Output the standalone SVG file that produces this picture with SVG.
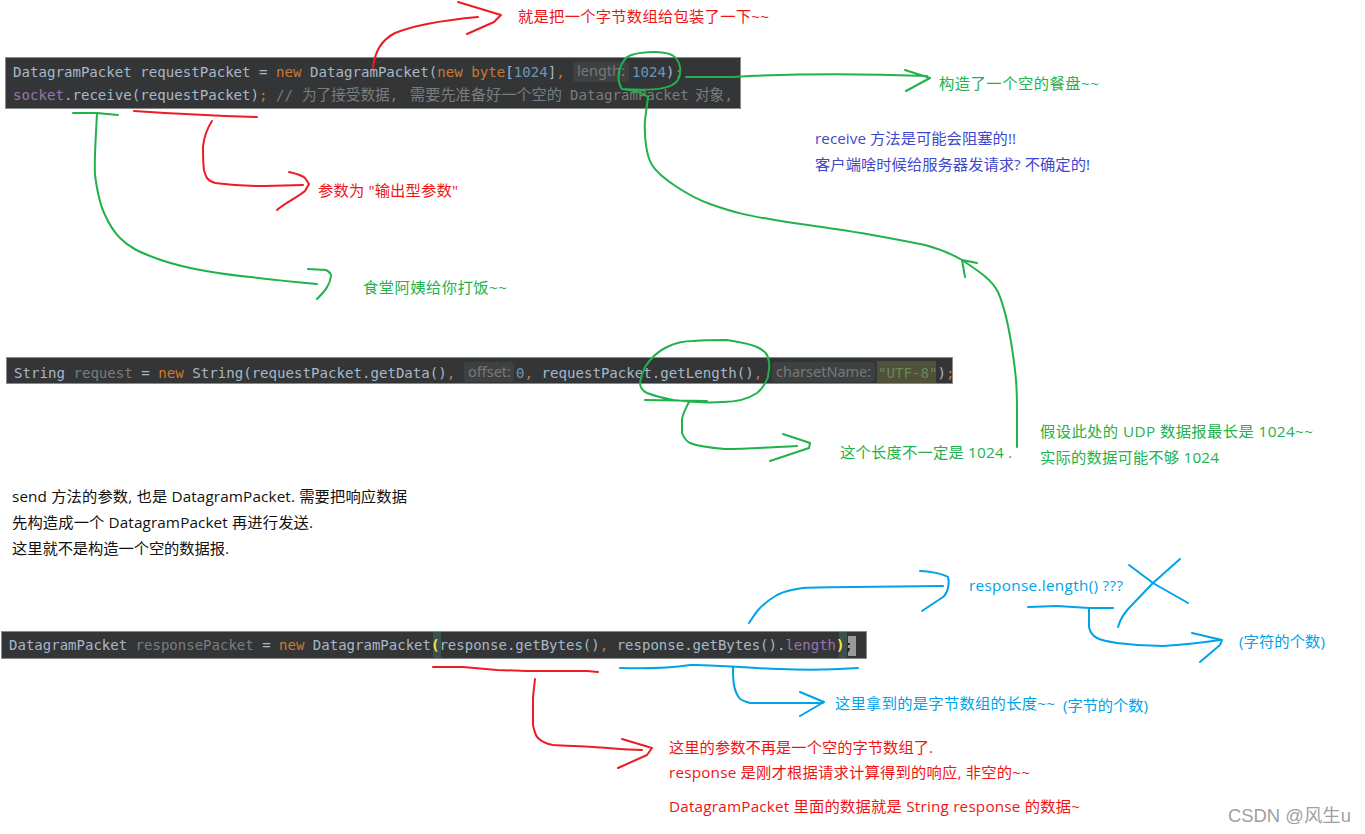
<svg xmlns="http://www.w3.org/2000/svg" width="1365" height="834" viewBox="0 0 1365 834">
<style>
.bar{fill:#333537;stroke:#8a8a8a;stroke-width:1}
.c{font-family:"DejaVu Sans Mono","Liberation Mono","Noto Sans CJK SC",monospace;font-size:14.1px;fill:#a9b7c6;white-space:pre}
.cj{font-size:14.6px}
.o{fill:#cc7832}.n{fill:#6897bb}.g{fill:#7a7d7f}.p{fill:#9876aa}.s{fill:#6a8759}.y{fill:#ffe14a;font-weight:bold}
.h{font-family:"Noto Sans","Liberation Sans",sans-serif;font-size:14.5px;fill:#787878}
.t{font-family:"Open Sans","Noto Sans CJK SC",sans-serif;font-size:15.3px;white-space:pre}
.lr{fill:#f01414}.lg{fill:#22b14c}.lb{fill:#00a2e8}.li{fill:#3f48cc}.lk{fill:#111}
.r,.gr,.bl{fill:none;stroke-width:2;stroke-linecap:round;stroke-linejoin:round}
.r{stroke:#ed1c24}.gr{stroke:#22b14c}.bl{stroke:#00a2e8}
</style>
<g id="code1">
<rect class="bar" x="5.500" y="57.500" width="735" height="51"/>
<text class="c" x="13" y="77">DatagramPacket requestPacket = <tspan class="o">new</tspan> DatagramPacket(<tspan class="o">new byte</tspan>[<tspan class="n">1024</tspan>]<tspan class="o">,</tspan></text>
<rect x="573" y="62" width="56" height="20" rx="3" fill="#3e4142"/>
<text class="h" x="577" y="76">length:</text>
<text class="c" x="632" y="77"><tspan class="n">1024</tspan>)<tspan class="o">;</tspan></text>
<text class="c" x="13" y="100"><tspan class="p">socket</tspan>.receive(requestPacket)<tspan class="o">;</tspan> <tspan class="g">// </tspan></text>
<text class="c cj g" x="302" y="100">为了接受数据,</text>
<text class="c g" x="410" y="100" style="font-size:15.2px">需要先准备好一个空的</text>
<text class="c g" x="570" y="100">DatagramPacket</text>
<text class="c cj g" x="695" y="100">对象,</text>
</g>
<g id="code2">
<rect class="bar" x="6.500" y="357.500" width="946" height="26"/>
<text class="c" x="14" y="378">String <tspan class="g">request</tspan> = <tspan class="o">new</tspan> String(requestPacket.getData()<tspan class="o">,</tspan></text>
<rect x="464" y="362" width="50" height="20" rx="3" fill="#3e4142"/>
<text class="h" x="468" y="377">offset:</text>
<text class="c" x="516" y="378"><tspan class="n">0</tspan><tspan class="o">,</tspan> requestPacket.getLength()<tspan class="o">,</tspan></text>
<rect x="772" y="362" width="103" height="20" rx="3" fill="#3e4142"/>
<text class="h" x="776" y="377">charsetName:</text>
<rect x="877" y="361" width="59" height="22" fill="#4f5238"/>
<text class="c" x="878" y="378"><tspan class="s">"UTF-8"</tspan>)<tspan class="o">;</tspan></text>
</g>
<g id="code3">
<rect class="bar" x="1.500" y="631.500" width="865" height="27"/>
<rect x="433" y="632" width="8" height="26" fill="#3b514d"/>
<rect x="839" y="632" width="8" height="26" fill="#3b514d"/>
<rect x="848" y="636" width="8" height="20" fill="#9a9a9a"/>
<text class="c" x="9" y="650" style="font-size:14.03px">DatagramPacket <tspan class="g">responsePacket</tspan> = <tspan class="o">new</tspan> DatagramPacket<tspan class="y">(</tspan>response.getBytes()<tspan class="o">,</tspan> response.getBytes().<tspan class="p">length</tspan><tspan class="y">)</tspan><tspan fill="#111">;</tspan></text>
</g>
<g id="connectors">
<path class="r" d="M373 68C375 50 382 40 395 33C415 25 445 20 478 17M458 2L501 15L494 22L467 34"/>
<path class="gr" d="M686 77L733 77L750 76C800 74 870 74 927 76M905 70L930 78L906 91"/>
<path class="gr" d="M622 89C616 80 618 66 627 57C635 52 660 50 672 55C681 60 682 72 678 80C672 89 655 91 622 89C632 90 642 92 648 97L645 120C644 135 646 155 652 165C660 178 690 197 710 204C735 213 750 216 775 220C800 224 815 226 835 229C870 234 900 240 925 245C940 249 950 253 962 260"/>
<path class="gr" d="M965 277L962 260L977 263M962 260C980 272 992 280 998 292C1006 310 1012 345 1015 370C1017 385 1017 395 1017 410L1017 447"/>
<path class="gr" d="M73 113L97 113L118 115M97 113C96 135 94 160 95 175C97 190 100 205 105 215C110 226 115 233 120 238C130 248 140 252 150 256C165 262 180 266 195 269C215 273 230 275 250 277C275 280 295 282 317 284M308 269L326 270C330 272 331 274 331 276C330 285 325 291 317 299"/>
<path class="r" d="M134 111L165 113L225 116L257 117"/>
<path class="r" d="M212 121C206 130 204 137 203 147C203 155 203 163 204 170C206 178 208 181 215 183C230 185 245 186 265 186L303 185M289 172C297 174 302 175 305 178L309 184L305 191C298 197 285 203 277 210"/>
<path class="gr" d="M645 400L707 401M640 383C641 375 643 371 645 367C651 358 658 351 667 347C675 343 684 341 693 341C705 340 718 340 727 340C740 342 750 344 757 347C765 351 768 354 769 362C770 370 768 373 768 377C765 385 762 389 757 393C748 399 735 402 723 402C708 403 690 402 673 400C663 398 655 396 647 393C641 390 640 387 640 383"/>
<path class="gr" d="M689 402C685 410 682 415 682 420L682 433C684 438 686 441 690 443C700 447 712 448 725 449C750 449 775 447 797 446M783 434L810 443L809 448L770 461"/>
<path class="bl" d="M749 623C753 617 756 612 760 608C765 603 770 599 777 595C785 591 795 589 803 588C820 587 835 587 853 587L943 586M920 571C930 571 943 574 948 577C950 585 947 594 943 597L922 611"/>
<path class="bl" d="M1028 607L1057 606L1089 608L1113 608M1089 609L1089 627C1090 632 1093 636 1097 638C1103 641 1110 642 1117 643C1132 645 1148 646 1163 646C1182 645 1200 643 1220 640M1192 633L1222 640L1220 645L1200 662"/>
<path class="bl" d="M1118 627C1120 620 1125 612 1130 607L1153 583L1180 559M1129 565L1153 583L1188 603"/>
<path class="r" d="M433 667L463 667L497 670L527 671L587 671L598 672"/>
<path class="bl" d="M620 668C650 669 670 668 690 665C710 664 740 668 780 669C800 670 830 670 858 668"/>
<path class="bl" d="M733 667C733 680 733 690 740 699C743 701 746 702 750 703L823 703M800 692L824 702L800 716"/>
<path class="r" d="M535 679L533 697L533 725C534 730 535 735 538 738C542 742 547 744 553 745C565 746 580 746 593 747C610 748 625 750 642 750M622 739L652 748L647 755L618 768"/>
</g>
<g id="labels">
<text class="t lr" x="518" y="22" textLength="251">就是把一个字节数组给包装了一下~~</text>
<text class="t lg" x="939" y="89" textLength="160">构造了一个空的餐盘~~</text>
<text class="t li" x="815" y="144" textLength="201">receive 方法是可能会阻塞的!!</text>
<text class="t li" x="815" y="170" textLength="275">客户端啥时候给服务器发请求? 不确定的!</text>
<text class="t lr" x="318" y="196" textLength="140">参数为 "输出型参数"</text>
<text class="t lg" x="363" y="293" textLength="144">食堂阿姨给你打饭~~</text>
<text class="t lg" x="840" y="458" textLength="172">这个长度不一定是 1024 .</text>
<text class="t lg" x="1040" y="437" textLength="273">假设此处的 UDP 数据报最长是 1024~~</text>
<text class="t lg" x="1040" y="463" textLength="179">实际的数据可能不够 1024</text>
<text class="t lk" x="12" y="502" textLength="395">send 方法的参数, 也是 DatagramPacket. 需要把响应数据</text>
<text class="t lk" x="12" y="528" textLength="301">先构造成一个 DatagramPacket 再进行发送.</text>
<text class="t lk" x="12" y="554" textLength="217">这里就不是构造一个空的数据报.</text>
<text class="t lb" x="969" y="591" textLength="154">response.length() ???</text>
<text class="t lb" x="1239" y="647" textLength="86">(字符的个数)</text>
<text class="t lb" x="835" y="709" textLength="220">这里拿到的是字节数组的长度~~</text>
<text class="t lb" x="1063" y="711" textLength="85">(字节的个数)</text>
<text class="t lr" x="669" y="753" textLength="264">这里的参数不再是一个空的字节数组了.</text>
<text class="t lr" x="669" y="778" textLength="361">response 是刚才根据请求计算得到的响应, 非空的~~</text>
<text class="t lr" x="669" y="812" textLength="411">DatagramPacket 里面的数据就是 String response 的数据~</text>
<text x="1228" y="822" font-family="'Liberation Sans','Noto Sans CJK SC',sans-serif" font-size="18.4" fill="#a0a0a0">CSDN @风生u</text>
</g>
</svg>
